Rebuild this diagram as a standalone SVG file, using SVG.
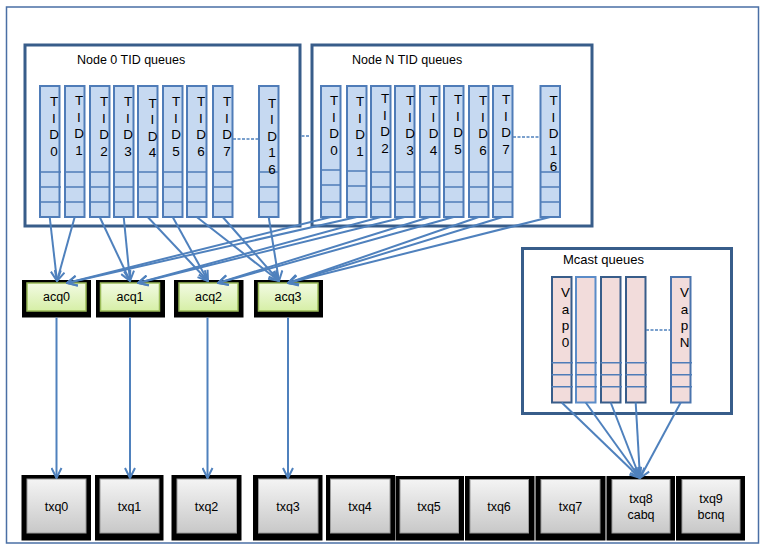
<svg xmlns="http://www.w3.org/2000/svg" width="767" height="551" viewBox="0 0 767 551">
<defs>
<style>
.frame{fill:none;stroke:#4a6fa5;stroke-width:1.5}
.box{fill:#fff;stroke:#385d8a;stroke-width:3}
.tid{fill:#c6d9f1;stroke:#4f7cb8;stroke-width:2}
.vap{fill:#f2dcdb;stroke:#4a74ad;stroke-width:2}
.cell{stroke:#4f7cb8;stroke-width:1.5}
.dash{stroke:#4f81bd;stroke-width:1.5;stroke-dasharray:3 1.5;fill:none}
text{font-family:"Liberation Sans",Arial,sans-serif;fill:#000}
.lbl{font-size:12.5px}
.let{font-size:13.5px;text-anchor:middle}
.q{font-size:12.5px;text-anchor:middle}
.blk{fill:#000}
.acq{fill:url(#gGreen);stroke:#9bbb59;stroke-width:1.5}
.txq{fill:url(#gGray);stroke:#9a9a9a;stroke-width:1}
#connectors line{stroke:#4f81bd;stroke-width:2;marker-end:url(#arr)}
</style>
<linearGradient id="gGreen" x1="0" y1="0" x2="0" y2="1">
<stop offset="0" stop-color="#f2fae3"/>
<stop offset="1" stop-color="#d6efa6"/>
</linearGradient>
<linearGradient id="gGray" x1="0" y1="0" x2="0" y2="1">
<stop offset="0" stop-color="#f4f4f4"/>
<stop offset="1" stop-color="#c8c8c8"/>
</linearGradient>
<marker id="arr" viewBox="0 0 12 12" refX="11" refY="6" markerWidth="12" markerHeight="12" markerUnits="userSpaceOnUse" orient="auto">
<path d="M1,1 L11,6 L1,11" fill="none" stroke="#4f81bd" stroke-width="2"/>
</marker>
</defs>

<rect class="frame" x="6.5" y="7" width="752" height="536"/>

<g id="node0-tid-queues">
<rect class="box" x="25" y="45" width="275" height="181"/>
<text class="lbl" x="77" y="64">Node 0 TID queues</text>
<g id="n0-tid0"><rect class="tid" x="40" y="86" width="19.5" height="131"/><path class="cell" d="M39.5,172H61M39.5,187H61M39.5,202H61"/><text class="let"><tspan x="54" y="106">T</tspan><tspan x="54" y="122.5">I</tspan><tspan x="54" y="139">D</tspan><tspan x="54" y="155.5">0</tspan></text></g>
<g id="n0-tid1"><rect class="tid" x="65" y="86" width="19.5" height="131"/><path class="cell" d="M64.5,172H85M64.5,187H85M64.5,202H85"/><text class="let"><tspan x="79" y="105">T</tspan><tspan x="79" y="121.5">I</tspan><tspan x="79" y="138">D</tspan><tspan x="79" y="154.5">1</tspan></text></g>
<g id="n0-tid2"><rect class="tid" x="90" y="86" width="19.5" height="131"/><path class="cell" d="M89.5,172H110M89.5,187H110M89.5,202H110"/><text class="let"><tspan x="104" y="106">T</tspan><tspan x="104" y="122.5">I</tspan><tspan x="104" y="139">D</tspan><tspan x="104" y="155.5">2</tspan></text></g>
<g id="n0-tid3"><rect class="tid" x="114" y="86" width="19.5" height="131"/><path class="cell" d="M113.5,172H134M113.5,187H134M113.5,202H134"/><text class="let"><tspan x="128" y="106">T</tspan><tspan x="128" y="122.5">I</tspan><tspan x="128" y="139">D</tspan><tspan x="128" y="155.5">3</tspan></text></g>
<g id="n0-tid4"><rect class="tid" x="138" y="86" width="19.5" height="131"/><path class="cell" d="M137.5,172H158M137.5,187H158M137.5,202H158"/><text class="let"><tspan x="152.5" y="107.5">T</tspan><tspan x="152.5" y="124">I</tspan><tspan x="152.5" y="140.5">D</tspan><tspan x="152.5" y="157">4</tspan></text></g>
<g id="n0-tid5"><rect class="tid" x="163" y="86" width="19.5" height="131"/><path class="cell" d="M162.5,172H183M162.5,187H183M162.5,202H183"/><text class="let"><tspan x="176" y="106">T</tspan><tspan x="176" y="122.5">I</tspan><tspan x="176" y="139">D</tspan><tspan x="176" y="155.5">5</tspan></text></g>
<g id="n0-tid6"><rect class="tid" x="187" y="86" width="19.5" height="131"/><path class="cell" d="M186.5,172H207M186.5,187H207M186.5,202H207"/><text class="let"><tspan x="201" y="106">T</tspan><tspan x="201" y="122.5">I</tspan><tspan x="201" y="139">D</tspan><tspan x="201" y="155.5">6</tspan></text></g>
<g id="n0-tid7"><rect class="tid" x="213" y="86" width="19.5" height="131"/><path class="cell" d="M212.5,172H233M212.5,187H233M212.5,202H233"/><text class="let"><tspan x="227" y="106">T</tspan><tspan x="227" y="122.5">I</tspan><tspan x="227" y="139">D</tspan><tspan x="227" y="155.5">7</tspan></text></g>
<line class="dash" x1="233" y1="139" x2="258.5" y2="139"/>
<g id="n0-tid16"><rect class="tid" x="259" y="86" width="19.5" height="131"/><path class="cell" d="M258.5,172H279M258.5,187H279M258.5,202H279"/><text class="let"><tspan x="272" y="107.5">T</tspan><tspan x="272" y="124">I</tspan><tspan x="272" y="140.5">D</tspan><tspan x="272" y="157">1</tspan><tspan x="272" y="173.5">6</tspan></text></g>
</g>

<line class="dash" x1="301.5" y1="136" x2="310.5" y2="136"/>

<g id="nodeN-tid-queues">
<rect class="box" x="312" y="45" width="280" height="181"/>
<text class="lbl" x="352" y="64">Node N TID queues</text>
<g id="nN-tid0"><rect class="tid" x="321" y="86" width="19.5" height="131"/><path class="cell" d="M320.5,170H341M320.5,185H341M320.5,202H341"/><text class="let"><tspan x="334" y="105">T</tspan><tspan x="334" y="121.5">I</tspan><tspan x="334" y="138">D</tspan><tspan x="334" y="154.5">0</tspan></text></g>
<g id="nN-tid1"><rect class="tid" x="347" y="86" width="19.5" height="131"/><path class="cell" d="M346.5,171H367M346.5,186H367M346.5,202H367"/><text class="let"><tspan x="360" y="106">T</tspan><tspan x="360" y="122.5">I</tspan><tspan x="360" y="139">D</tspan><tspan x="360" y="155.5">1</tspan></text></g>
<g id="nN-tid2"><rect class="tid" x="371" y="86" width="19.5" height="131"/><path class="cell" d="M370.5,172H391M370.5,187H391M370.5,202H391"/><text class="let"><tspan x="385" y="103">T</tspan><tspan x="385" y="119.5">I</tspan><tspan x="385" y="136">D</tspan><tspan x="385" y="152.5">2</tspan></text></g>
<g id="nN-tid3"><rect class="tid" x="395" y="86" width="19.5" height="131"/><path class="cell" d="M394.5,172H415M394.5,187H415M394.5,202H415"/><text class="let"><tspan x="410" y="105">T</tspan><tspan x="410" y="121.5">I</tspan><tspan x="410" y="138">D</tspan><tspan x="410" y="154.5">3</tspan></text></g>
<g id="nN-tid4"><rect class="tid" x="420" y="86" width="19.5" height="131"/><path class="cell" d="M419.5,172H440M419.5,187H440M419.5,202H440"/><text class="let"><tspan x="433.5" y="105">T</tspan><tspan x="433.5" y="121.5">I</tspan><tspan x="433.5" y="138">D</tspan><tspan x="433.5" y="154.5">4</tspan></text></g>
<g id="nN-tid5"><rect class="tid" x="444" y="86" width="19.5" height="131"/><path class="cell" d="M443.5,172H464M443.5,187H464M443.5,202H464"/><text class="let"><tspan x="458" y="104">T</tspan><tspan x="458" y="120.5">I</tspan><tspan x="458" y="137">D</tspan><tspan x="458" y="153.5">5</tspan></text></g>
<g id="nN-tid6"><rect class="tid" x="469" y="86" width="19.5" height="131"/><path class="cell" d="M468.5,172H489M468.5,187H489M468.5,202H489"/><text class="let"><tspan x="483" y="105">T</tspan><tspan x="483" y="121.5">I</tspan><tspan x="483" y="138">D</tspan><tspan x="483" y="154.5">6</tspan></text></g>
<g id="nN-tid7"><rect class="tid" x="493" y="86" width="19.5" height="131"/><path class="cell" d="M492.5,172H513M492.5,187H513M492.5,202H513"/><text class="let"><tspan x="506" y="104">T</tspan><tspan x="506" y="120.5">I</tspan><tspan x="506" y="137">D</tspan><tspan x="506" y="153.5">7</tspan></text></g>
<line class="dash" x1="513" y1="137" x2="540" y2="137"/>
<g id="nN-tid16"><rect class="tid" x="540.5" y="86" width="19.5" height="131"/><path class="cell" d="M540,172H560.5M540,187H560.5M540,202H560.5"/><text class="let"><tspan x="553.5" y="105">T</tspan><tspan x="553.5" y="121.5">I</tspan><tspan x="553.5" y="138">D</tspan><tspan x="553.5" y="154.5">1</tspan><tspan x="553.5" y="171">6</tspan></text></g>
</g>

<g id="mcast-queues">
<rect class="box" x="522.5" y="248.5" width="209" height="165"/>
<text class="lbl" x="563" y="264" style="font-size:13px">Mcast queues</text>
<g id="vap0"><rect class="vap" x="552" y="277" width="19.5" height="125.5" style="stroke:#385d8a"/><path class="cell" d="M551.5,362.7H573M551.5,374.7H573M551.5,386.7H573"/><text class="let"><tspan x="565.5" y="297">V</tspan><tspan x="565.5" y="313.5">a</tspan><tspan x="565.5" y="330">p</tspan><tspan x="565.5" y="346.5">0</tspan></text></g>
<g id="vap1"><rect class="vap" x="576" y="277" width="19.5" height="125.5" style="stroke:#5b8cc8"/><path class="cell" d="M575.5,362.7H597M575.5,374.7H597M575.5,386.7H597"/></g>
<g id="vap2"><rect class="vap" x="601" y="277" width="19.5" height="125.5" style="stroke:#385d8a"/><path class="cell" d="M600.5,362.7H622M600.5,374.7H622M600.5,386.7H622"/></g>
<g id="vap3"><rect class="vap" x="626" y="277" width="19.5" height="125.5" style="stroke:#385d8a"/><path class="cell" d="M625.5,362.7H647M625.5,374.7H647M625.5,386.7H647"/></g>
<line class="dash" x1="646" y1="330" x2="671" y2="330"/>
<g id="vapN"><rect class="vap" x="671" y="277" width="19.5" height="125.5"/><path class="cell" d="M670.5,362.7H692M670.5,374.7H692M670.5,386.7H692"/><text class="let"><tspan x="684.5" y="297">V</tspan><tspan x="684.5" y="313.5">a</tspan><tspan x="684.5" y="330">p</tspan><tspan x="684.5" y="346.5">N</tspan></text></g>
</g>

<g id="acq0"><rect class="blk" x="22" y="280" width="69" height="37.5"/><rect class="acq" x="27" y="283" width="59" height="28"/><text class="q" x="56.5" y="301">acq0</text></g>
<g id="acq1"><rect class="blk" x="96" y="280" width="69" height="37.5"/><rect class="acq" x="100.5" y="283" width="59" height="28"/><text class="q" x="130" y="301">acq1</text></g>
<g id="acq2"><rect class="blk" x="174" y="280" width="69.5" height="37.5"/><rect class="acq" x="179" y="283" width="59" height="28"/><text class="q" x="208.5" y="301">acq2</text></g>
<g id="acq3"><rect class="blk" x="254" y="280" width="69" height="37.5"/><rect class="acq" x="258.5" y="283" width="59.5" height="28"/><text class="q" x="288" y="301">acq3</text></g>

<g id="txq0"><rect class="blk" x="21.5" y="475" width="69.5" height="65.5"/><rect class="txq" x="27" y="479" width="59" height="54"/><text class="q" x="56.5" y="510.5">txq0</text></g>
<g id="txq1"><rect class="blk" x="95" y="475" width="68.5" height="65.5"/><rect class="txq" x="100" y="479" width="59" height="54"/><text class="q" x="129.5" y="510.5">txq1</text></g>
<g id="txq2"><rect class="blk" x="171.5" y="475" width="70" height="65.5"/><rect class="txq" x="177" y="479" width="59.5" height="54"/><text class="q" x="206.5" y="510.5">txq2</text></g>
<g id="txq3"><rect class="blk" x="253" y="475" width="69.5" height="65.5"/><rect class="txq" x="258.5" y="479" width="59.5" height="54"/><text class="q" x="288" y="510.5">txq3</text></g>
<g id="txq4"><rect class="blk" x="326" y="475" width="69" height="65.5"/><rect class="txq" x="330.5" y="479" width="59.5" height="54"/><text class="q" x="360" y="510.5">txq4</text></g>
<g id="txq5"><rect class="blk" x="395.5" y="476" width="68.5" height="64.5"/><rect class="txq" x="400" y="479.5" width="58.5" height="53.5"/><text class="q" x="429" y="510.5">txq5</text></g>
<g id="txq6"><rect class="blk" x="465" y="476" width="69.5" height="64.5"/><rect class="txq" x="470" y="479.5" width="58.5" height="53.5"/><text class="q" x="499" y="510.5">txq6</text></g>
<g id="txq7"><rect class="blk" x="535.5" y="476" width="70" height="64.5"/><rect class="txq" x="541" y="479.5" width="59" height="53.5"/><text class="q" x="570.5" y="510.5">txq7</text></g>
<g id="txq8"><rect class="blk" x="606.5" y="476" width="68.5" height="64.5"/><rect class="txq" x="612" y="479.5" width="58" height="53.5"/><text class="q" x="641" y="502.5">txq8</text><text class="q" x="641" y="519">cabq</text></g>
<g id="txq9"><rect class="blk" x="676" y="476" width="69" height="64.5"/><rect class="txq" x="682" y="479.5" width="58" height="53.5"/><text class="q" x="711" y="502.5">txq9</text><text class="q" x="711" y="519">bcnq</text></g>

<g id="connectors">
<line x1="49.7" y1="217" x2="57" y2="281"/>
<line x1="74.7" y1="217" x2="57" y2="281"/>
<line x1="99.7" y1="217" x2="130" y2="281"/>
<line x1="123.7" y1="217" x2="130" y2="281"/>
<line x1="147.7" y1="217" x2="208" y2="281"/>
<line x1="172.7" y1="217" x2="208" y2="281"/>
<line x1="196.7" y1="217" x2="279" y2="281"/>
<line x1="222.7" y1="217" x2="279" y2="281"/>
<line x1="268.7" y1="217" x2="279" y2="281"/>
<line x1="330.7" y1="217" x2="67" y2="283"/>
<line x1="356.7" y1="217" x2="67" y2="283"/>
<line x1="380.7" y1="217" x2="138" y2="283"/>
<line x1="404.7" y1="217" x2="138" y2="283"/>
<line x1="429.7" y1="217" x2="218" y2="283"/>
<line x1="453.7" y1="217" x2="218" y2="283"/>
<line x1="478.7" y1="217" x2="288" y2="283"/>
<line x1="502.7" y1="217" x2="288" y2="283"/>
<line x1="550.2" y1="217" x2="288" y2="283"/>
<line x1="56.5" y1="317.5" x2="56.5" y2="478"/>
<line x1="130" y1="317.5" x2="130" y2="478"/>
<line x1="207.5" y1="317.5" x2="207.5" y2="478"/>
<line x1="288" y1="317.5" x2="288" y2="478"/>
<line x1="561.7" y1="402.5" x2="640" y2="478"/>
<line x1="585.7" y1="402.5" x2="640" y2="478"/>
<line x1="610.7" y1="402.5" x2="640" y2="478"/>
<line x1="635.7" y1="402.5" x2="640" y2="478"/>
<line x1="680.7" y1="402.5" x2="640" y2="478"/>
</g>
</svg>
